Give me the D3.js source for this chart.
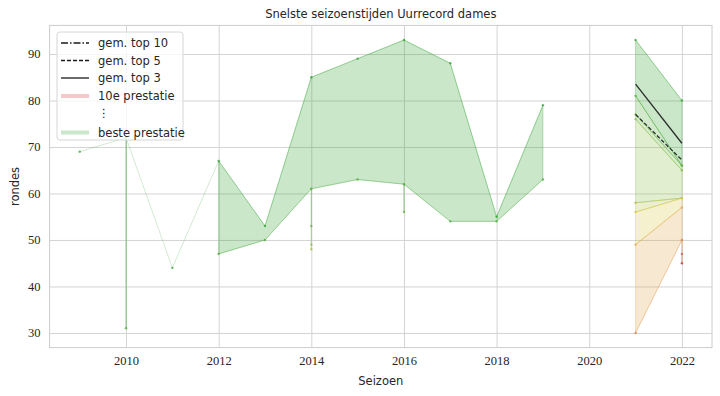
<!DOCTYPE html>
<html>
<head>
<meta charset="utf-8">
<script src="https://cdn.jsdelivr.net/npm/d3@7"></script>
<style>
  body { margin: 0; background: #fff; }
  svg text { fill: #262626; }
</style>
</head>
<body>
<div id="chart"></div>
<script>
// seasons on the x axis
const seasons = [2009, 2010, 2011, 2012, 2013, 2014, 2015, 2016, 2017, 2018, 2019, 2020, 2021, 2022];

// rondes per rank (1 = beste prestatie ... 10 = 10e prestatie), null = geen prestatie
const rank1  = [69, 72, 44, 67, 53, 85, 89, 93, 88, 55, 79, null, 93, 80];
const rank2  = [null, 31, null, 47, 50, 61, 63, 62, 54, 54, 63, null, 81, 66];
const rank3  = [null, null, null, null, null, 53, null, 56, null, null, null, null, 77, 66];
const rank4  = [null, null, null, null, null, 49, null, null, null, null, null, null, 76, 65];
const rank5  = [null, null, null, null, null, 48, null, null, null, null, null, null, 58, 59];
const rank6  = [null, null, null, null, null, null, null, null, null, null, null, null, 56, 59];
const rank7  = [null, null, null, null, null, null, null, null, null, null, null, null, 49, 57];
const rank8  = [null, null, null, null, null, null, null, null, null, null, null, null, 30, 50];
const rank9  = [null, null, null, null, null, null, null, null, null, null, null, null, null, 47];
const rank10 = [null, null, null, null, null, null, null, null, null, null, null, null, null, 45];

// averages
const gemTop3  = [null, null, null, null, null, null, null, null, null, null, null, null, 83.5, 70.8];
const gemTop5  = [null, null, null, null, null, null, null, null, null, null, null, null, 77, 67.2];
const gemTop10 = [null, null, null, null, null, null, null, null, null, null, null, null, null, 59.4];

const yTicks = [30, 40, 50, 60, 70, 80, 90];
const xTicks = [2010, 2012, 2014, 2016, 2018, 2020, 2022];

const legendItems = [
  { label: "gem. top 10", type: "avg", dash: "7,2,1.5,2" },
  { label: "gem. top 5", type: "avg", dash: "4,2" },
  { label: "gem. top 3", type: "avg", dash: null },
  { label: "10e prestatie", type: "rank", rank: 10 },
  { label: "\u22EE", type: "none" },
  { label: "beste prestatie", type: "rank", rank: 1 }
];

const ranks = [rank1, rank2, rank3, rank4, rank5, rank6, rank7, rank8, rank9, rank10];

const W = 720, H = 396;
const L = 49.6, R = 712, T = 25.4, B = 347.6;

const svg = d3.select("#chart").append("svg")
  .attr("width", W).attr("height", H)
  .style("font-family", "'DejaVu Sans', sans-serif");

const x = d3.scaleLinear().domain([2008.35, 2022.65]).range([L, R]);
const y = d3.scaleLinear().domain([26.85, 96.15]).range([B, T]);

const rankColor = d3.scaleLinear()
  .domain([1, 4, 6, 7, 10])
  .range(["#2ca02c", "#86bc44", "#d8c23c", "#e0a448", "#d62728"]);

// grid via axes
const gx = svg.append("g")
  .attr("transform", `translate(0,${B})`)
  .call(d3.axisBottom(x).tickValues(xTicks).tickFormat(d3.format("d")).tickSize(-(B - T)).tickPadding(9));
const gy = svg.append("g")
  .attr("transform", `translate(${L},0)`)
  .call(d3.axisLeft(y).tickValues(yTicks).tickSize(-(R - L)).tickPadding(9));

[gx, gy].forEach(g => {
  g.select(".domain").remove();
  g.selectAll(".tick line").attr("stroke", "#d4d4d4").attr("stroke-width", 1);
  g.selectAll(".tick text")
    .style("font-family", "'Liberation Serif', 'DejaVu Serif', serif")
    .style("font-size", "12.5px")
    .attr("fill", "#262626");
});

// spines
svg.append("rect")
  .attr("x", L).attr("y", T).attr("width", R - L).attr("height", B - T)
  .attr("fill", "none").attr("stroke", "#cccccc").attr("stroke-width", 1);

const plot = svg.append("g");

// fills between consecutive ranks
for (let k = 0; k < ranks.length - 1; k++) {
  const upper = ranks[k], lower = ranks[k + 1];
  const area = d3.area()
    .defined((d, i) => upper[i] != null && lower[i] != null)
    .x((d) => x(d))
    .y0((d, i) => y(lower[i]))
    .y1((d, i) => y(upper[i]));
  plot.append("path")
    .attr("d", area(seasons))
    .attr("fill", rankColor(k + 1))
    .attr("fill-opacity", 0.25)
    .attr("stroke", rankColor(k + 1))
    .attr("stroke-opacity", 0.3)
    .attr("stroke-width", 1);
}

// rank lines
ranks.forEach((vals, k) => {
  const line = d3.line()
    .defined((d, i) => vals[i] != null)
    .x((d) => x(d))
    .y((d, i) => y(vals[i]));
  plot.append("path")
    .attr("d", line(seasons))
    .attr("fill", "none")
    .attr("stroke", rankColor(k + 1))
    .attr("stroke-opacity", 0.22)
    .attr("stroke-width", 1);
});

// rank points
ranks.forEach((vals, k) => {
  plot.append("g").selectAll("circle")
    .data(seasons.filter((d, i) => vals[i] != null).map((d) => ({ s: d, v: vals[seasons.indexOf(d)] })))
    .enter().append("circle")
    .attr("cx", (d) => x(d.s))
    .attr("cy", (d) => y(d.v))
    .attr("r", 1.2)
    .attr("fill", rankColor(k + 1))
    .attr("fill-opacity", 0.75);
});

// averages
[[gemTop10, "7,2,1.5,2"], [gemTop5, "4,2"], [gemTop3, null]].forEach(([vals, dash]) => {
  const line = d3.line()
    .defined((d, i) => vals[i] != null)
    .x((d) => x(d))
    .y((d, i) => y(vals[i]));
  plot.append("path")
    .attr("d", line(seasons))
    .attr("fill", "none")
    .attr("stroke", "#1a1a1a")
    .attr("stroke-opacity", 0.9)
    .attr("stroke-width", 1.3)
    .attr("stroke-dasharray", dash);
});

// legend
const lg = svg.append("g");
lg.append("rect")
  .attr("x", 57).attr("y", 32).attr("width", 126).attr("height", 108)
  .attr("rx", 3)
  .attr("fill", "#fff").attr("fill-opacity", 0.8)
  .attr("stroke", "#d6d6d6").attr("stroke-width", 1);

const rowY = [43, 60.5, 78, 96, 113, 132.5];
legendItems.forEach((item, i) => {
  const yy = rowY[i];
  if (item.type === "avg") {
    lg.append("line")
      .attr("x1", 61).attr("x2", 89).attr("y1", yy).attr("y2", yy)
      .attr("stroke", "#1a1a1a").attr("stroke-width", 1.3)
      .attr("stroke-dasharray", item.dash);
  } else if (item.type === "rank") {
    lg.append("line")
      .attr("x1", 61).attr("x2", 89).attr("y1", yy).attr("y2", yy)
      .attr("stroke", rankColor(item.rank)).attr("stroke-opacity", 0.25)
      .attr("stroke-width", 4);
  }
  lg.append("text")
    .attr("x", 98).attr("y", yy).attr("dy", "0.35em")
    .style("font-size", "11.5px")
    .text(item.label);
});

// titles
svg.append("text")
  .attr("x", (L + R) / 2).attr("y", 14).attr("dy", "0.35em")
  .attr("text-anchor", "middle")
  .style("font-size", "11.5px")
  .text("Snelste seizoenstijden Uurrecord dames");

svg.append("text")
  .attr("x", (L + R) / 2).attr("y", 381).attr("dy", "0.35em")
  .attr("text-anchor", "middle")
  .style("font-size", "11.5px")
  .text("Seizoen");

svg.append("text")
  .attr("transform", `translate(15,${(T + B) / 2}) rotate(-90)`)
  .attr("dy", "0.35em")
  .attr("text-anchor", "middle")
  .style("font-size", "11.5px")
  .text("rondes");
</script>
</body>
</html>
